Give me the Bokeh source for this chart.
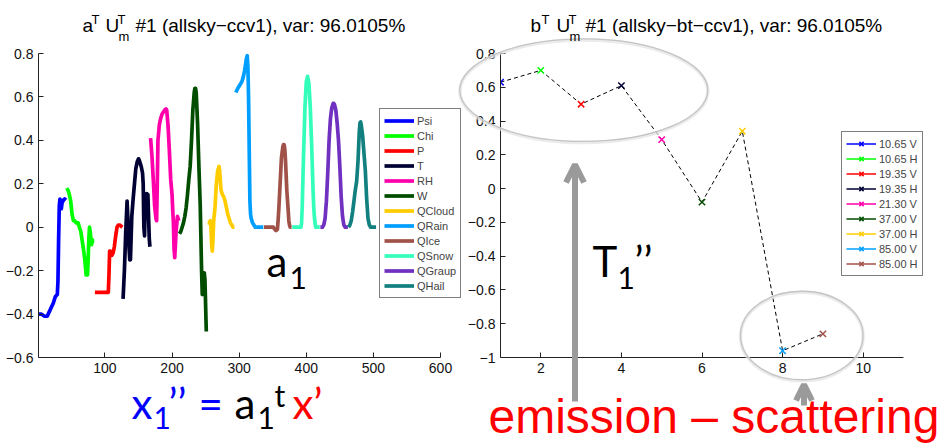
import numpy as np
from bokeh.plotting import figure
from bokeh.models import (Range1d, FixedTicker, Label, Legend, LegendItem,
                          Arrow, OpenHead, ColumnDataSource, GridBox)
from bokeh.embed import file_html
from bokeh.resources import INLINE

# ---------------- left panel data: a^T U_m^T vs control-vector index ----------------
var_names = ["Psi", "Chi", "P", "T", "RH", "W", "QCloud", "QRain", "QIce", "QSnow", "QGraup", "QHail"]
var_colors = ["#0000ff", "#00ff00", "#ff0000", "#000033", "#ff00aa", "#004d00",
              "#ffcc00", "#009fff", "#a05248", "#33ffbb", "#7030c0", "#138080"]

psi_x = [1, 5, 10, 14, 17, 20, 23, 26, 29, 30, 31, 32, 33, 34, 35, 36, 38, 40, 42]
psi_y = [-0.40, -0.40, -0.41, -0.41, -0.39, -0.37, -0.35, -0.32, -0.31, -0.25, -0.05, 0.10, 0.13, 0.12, 0.085, 0.11, 0.125, 0.13, 0.125]
chi_x = [43, 45, 47, 49, 51, 53, 55, 57, 60, 62, 64, 66, 68, 70, 72, 74, 75, 76, 77, 78, 79, 80, 82, 84]
chi_y = [0.18, 0.17, 0.15, 0.12, 0.06, 0.03, 0.03, 0.02, 0.02, 0.00, -0.02, -0.06, -0.10, -0.15, -0.22, -0.22, -0.15, -0.05, 0.00, -0.02, -0.05, -0.08, -0.06, -0.06]
p_x = [85, 90, 95, 100, 105, 106, 107, 108, 110, 112, 114, 116, 118, 120, 122, 124, 126]
p_y = [-0.30, -0.30, -0.30, -0.30, -0.30, -0.22, -0.11, -0.11, -0.13, -0.12, -0.09, -0.04, 0.00, 0.01, 0.01, 0.005, 0.00]
t_x = [127, 129, 131, 133, 134, 136, 137, 138, 140, 142, 144, 146, 148, 150, 151, 152, 154, 156, 157, 158, 159, 160, 162, 164, 165, 166, 167]
t_y = [-0.33, -0.20, -0.02, 0.12, 0.05, -0.10, -0.15, -0.15, 0.05, 0.13, 0.20, 0.27, 0.30, 0.315, 0.31, 0.30, 0.28, 0.25, 0.20, 0.00, -0.04, 0.10, 0.155, 0.15, 0.05, -0.05, -0.09]
rh_x = [168, 170, 172, 174, 176, 177, 178, 179, 181, 183, 185, 187, 189, 191, 192, 194, 196, 198, 200, 201, 202, 203, 204, 206, 208, 209, 210]
rh_y = [0.41, 0.33, 0.22, 0.10, 0.04, 0.03, 0.20, 0.40, 0.47, 0.50, 0.52, 0.53, 0.54, 0.545, 0.54, 0.47, 0.35, 0.22, 0.15, 0.08, 0.02, -0.10, -0.14, -0.02, 0.05, 0.04, 0.03]
w_x = [211, 213, 215, 217, 219, 221, 223, 225, 227, 229, 231, 233, 234, 235, 236, 238, 240, 242, 243, 244, 245, 246, 247, 248, 249, 250, 251]
w_y = [-0.03, -0.02, 0.00, 0.02, 0.05, 0.09, 0.15, 0.22, 0.28, 0.40, 0.54, 0.62, 0.64, 0.64, 0.62, 0.48, 0.28, 0.10, -0.05, -0.20, -0.31, -0.30, -0.21, -0.21, -0.24, -0.36, -0.48]
qcloud_x = [253, 255, 257, 258, 259, 260, 261, 262, 263, 264, 266, 268, 270, 271, 272, 273, 275, 277, 279, 281, 283, 285, 287, 289, 291, 293]
qcloud_y = [0.02, 0.02, 0.03, 0.00, -0.08, -0.11, -0.05, 0.03, 0.06, 0.09, 0.20, 0.26, 0.28, 0.26, 0.21, 0.17, 0.15, 0.14, 0.12, 0.09, 0.06, 0.04, 0.02, 0.01, 0.00, 0.00]
qrain_x = [295, 298, 301, 304, 306, 308, 310, 311, 312, 313, 314, 315, 316, 317, 318, 320, 322, 324, 328, 332, 336]
qrain_y = [0.62, 0.64, 0.655, 0.67, 0.69, 0.72, 0.76, 0.78, 0.79, 0.74, 0.60, 0.35, 0.12, 0.06, 0.04, 0.02, 0.01, 0.00, 0.00, 0.00, 0.00]
qice_x = [337, 342, 347, 351, 353, 355, 357, 358, 359, 361, 363, 365, 366, 367, 368, 369, 371, 373, 374, 375, 376, 378]
qice_y = [0.00, 0.00, 0.00, 0.00, -0.01, -0.015, -0.01, 0.03, 0.08, 0.20, 0.32, 0.37, 0.38, 0.38, 0.36, 0.31, 0.17, 0.08, 0.03, 0.01, 0.00, 0.00]
qsnow_x = [379, 385, 390, 392, 393, 394, 395, 396, 398, 400, 402, 404, 406, 408, 409, 410, 411, 412, 413, 414, 417, 420]
qsnow_y = [0.00, 0.00, 0.00, 0.00, 0.02, 0.10, 0.22, 0.34, 0.55, 0.67, 0.695, 0.66, 0.55, 0.38, 0.28, 0.18, 0.10, 0.05, 0.02, 0.00, 0.00, 0.00]
qgraup_x = [421, 424, 426, 428, 430, 432, 434, 436, 438, 440, 441, 442, 444, 446, 448, 450, 452, 454, 456, 458, 462]
qgraup_y = [0.00, 0.00, 0.01, 0.04, 0.12, 0.25, 0.40, 0.50, 0.55, 0.57, 0.57, 0.565, 0.54, 0.48, 0.40, 0.28, 0.14, 0.05, 0.01, 0.00, 0.00]
qhail_x = [463, 465, 467, 469, 471, 473, 475, 477, 479, 480, 481, 482, 484, 486, 488, 490, 492, 494, 496, 500, 504]
qhail_y = [0.00, 0.01, 0.03, 0.07, 0.12, 0.17, 0.21, 0.30, 0.44, 0.48, 0.485, 0.47, 0.42, 0.34, 0.26, 0.13, 0.04, 0.01, 0.00, 0.00, 0.00]

var_xs = [psi_x, chi_x, p_x, t_x, rh_x, w_x, qcloud_x, qrain_x, qice_x, qsnow_x, qgraup_x, qhail_x]
var_ys = [psi_y, chi_y, p_y, t_y, rh_y, w_y, qcloud_y, qrain_y, qice_y, qsnow_y, qgraup_y, qhail_y]

# ---------------- right panel data: b^T U_m^T per channel ----------------
channels = ["10.65 V", "10.65 H", "19.35 V", "19.35 H", "21.30 V", "37.00 V", "37.00 H", "85.00 V", "85.00 H"]
channel_index = [1, 2, 3, 4, 5, 6, 7, 8, 9]
bt_values = [0.63, 0.70, 0.50, 0.61, 0.29, -0.08, 0.34, -0.96, -0.86]
channel_colors = ["#0000ff", "#00ff00", "#ff0000", "#000033", "#ff00aa", "#004d00", "#ffcc00", "#009fff", "#a05248"]

# ---------------- ticks ----------------
left_xticks = [100, 200, 300, 400, 500, 600]
left_xlabels = ["100", "200", "300", "400", "500", "600"]
left_yticks = [-0.6, -0.4, -0.2, 0, 0.2, 0.4, 0.6, 0.8]
left_ylabels = ["\u22120.6", "\u22120.4", "\u22120.2", "0", "0.2", "0.4", "0.6", "0.8"]
right_xticks = [2, 4, 6, 8, 10]
right_xlabels = ["2", "4", "6", "8", "10"]
right_yticks = [-1, -0.8, -0.6, -0.4, -0.2, 0, 0.2, 0.4, 0.6, 0.8]
right_ylabels = ["\u22121", "\u22120.8", "\u22120.6", "\u22120.4", "\u22120.2", "0", "0.2", "0.4", "0.6", "0.8"]

# ---------------- layout constants (page pixels) ----------------
W1, W2, H = 461, 480, 447
TOP, BOTTOM = 53, 357
L_LEFT, L_RIGHT = 38, 440
R_LEFT, R_RIGHT = 500, 903
SANS = "Liberation Sans"
SLIDE = "Lato"
AXC = "#222222"
NAN = float("nan")
BASE_SHIFT = 0.42   # label anchor correction (fraction of font size)


def no_align(p):
    try:
        p.frame_align = False
    except Exception:
        pass


def make_fig(width, xr, yr, bl, br):
    p = figure(width=width, height=H, x_range=Range1d(*xr), y_range=Range1d(*yr),
               output_backend="svg", toolbar_location=None, title=None,
               min_border_left=bl, min_border_right=br,
               min_border_top=TOP, min_border_bottom=H - BOTTOM)
    p.outline_line_color = None
    p.background_fill_color = "white"
    p.border_fill_color = "white"
    p.xgrid.visible = False
    p.ygrid.visible = False
    no_align(p)
    return p


def style_axes(p, xt, xl, yt, yl):
    p.xaxis.ticker = FixedTicker(ticks=xt)
    p.yaxis.ticker = FixedTicker(ticks=yt)
    p.xaxis.major_label_overrides = {t: l for t, l in zip(xt, xl)}
    p.yaxis.major_label_overrides = {t: l for t, l in zip(yt, yl)}
    for ax in (p.xaxis[0], p.yaxis[0]):
        ax.axis_line_color = AXC
        ax.major_tick_line_color = AXC
        ax.major_tick_in = 5
        ax.major_tick_out = 0
        ax.minor_tick_line_color = None
        ax.major_label_text_font = SANS
        ax.major_label_text_font_size = "14px"
        ax.major_label_text_color = "#111111"
        ax.major_label_standoff = 5


# ================= left chart =================
p1 = make_fig(W1, (1, 600), (-0.6, 0.8), L_LEFT, W1 - L_RIGHT)
style_axes(p1, left_xticks, left_xlabels, left_yticks, left_ylabels)
for xs, ys, c in zip(var_xs, var_ys, var_colors):
    p1.line(xs, ys, line_color=c, line_width=3.7, line_join="round")

# ================= right chart =================
p2 = make_fig(W2, (1, 11), (-1, 0.8), R_LEFT - W1, W1 + W2 - R_RIGHT)
style_axes(p2, right_xticks, right_xlabels, right_yticks, right_ylabels)
p2.line(channel_index, bt_values, line_color="black", line_width=1, line_dash="4 3")
p2.scatter(channel_index, bt_values, marker="x", size=9, line_color=channel_colors, line_width=1.5)

# ================= transparent overlay (page-pixel space) for titles, legends, slide notes =================
ov = figure(width=W1 + W2, height=H, x_range=Range1d(0, W1 + W2), y_range=Range1d(H, 0),
            x_axis_type=None, y_axis_type=None, output_backend="svg", toolbar_location=None,
            title=None, min_border=0, min_border_left=0, min_border_right=0,
            min_border_top=0, min_border_bottom=0)
ov.outline_line_color = None
ov.background_fill_alpha = 0
ov.border_fill_alpha = 0
no_align(ov)


def txt(x, y, text, size, color="black", font=SANS):
    ov.add_layout(Label(x=x, y=y - BASE_SHIFT * size, text=text, text_font=font,
                        text_font_size=f"{size}px", text_color=color,
                        text_align="left", text_baseline="alphabetic"))


# legends (samples styled like the chart glyphs; sample renderers hold no visible point)
items1 = []
for name, c in zip(var_names, var_colors):
    r = ov.line(x=[NAN], y=[NAN], line_color=c, line_width=3.7)
    items1.append(LegendItem(label=name, renderers=[r]))
items2 = []
for ch, c in zip(channels, channel_colors):
    lr = ov.line(x=[NAN], y=[NAN], line_color=c, line_width=1.5)
    sr = ov.scatter(x=[NAN], y=[NAN], marker="x", size=9, line_color=c, line_width=1.5)
    items2.append(LegendItem(label=ch, renderers=[lr, sr]))

leg_style = dict(margin=0, padding=4, spacing=0, glyph_width=30, glyph_height=15,
                 label_height=15, label_standoff=3, label_text_font=SANS,
                 label_text_font_size="11px", border_line_color="black",
                 border_line_width=1, background_fill_color="white",
                 background_fill_alpha=1)
ov.add_layout(Legend(items=items1, location=(379, H - 298), **leg_style))
ov.add_layout(Legend(items=items2, location=(841, H - 276), **leg_style))

# titles
txt(82, 33, "a", 19)
txt(91, 24, "T", 13)
txt(105, 33, "U", 19)
txt(117, 24, "T", 13)
txt(118, 41, "m", 13)
txt(135, 33, "#1 (allsky\u2212ccv1), var: 96.0105%", 19)
txt(530, 33, "b", 19)
txt(541, 24, "T", 13)
txt(556, 33, "U", 19)
txt(568, 24, "T", 13)
txt(569, 41, "m", 13)
txt(585, 33, "#1 (allsky\u2212bt\u2212ccv1), var: 96.0105%", 19)

# highlight ellipses
for cx, cy, ew, eh in [(583.3, 89.7, 248.0, 102.6), (801.3, 335.0, 122.6, 88.6)]:
    ov.ellipse(x=[cx], y=[cy + 1], width=ew, height=eh, width_units="screen", height_units="screen",
               fill_color=None, line_color="#e2e2e2", line_width=3.5, line_alpha=0.7)
    ov.ellipse(x=[cx], y=[cy], width=ew, height=eh, width_units="screen", height_units="screen",
               fill_color=None, line_color="#c4c4c4", line_width=1.3)

# gray arrows
GRAY = "#9a9a9a"
ov.add_layout(Arrow(x_start=574.5, y_start=401, x_end=574.5, y_end=164,
                    line_color=GRAY, line_width=6,
                    end=OpenHead(size=18, line_color=GRAY, line_width=6)))
ov.add_layout(Arrow(x_start=803.5, y_start=405, x_end=803.5, y_end=384,
                    line_color=GRAY, line_width=6,
                    end=OpenHead(size=16, line_color=GRAY, line_width=6)))

# slide notes
txt(266, 278, "a", 42, font=SLIDE)
txt(289, 290, "1", 30, font=SLIDE)
txt(131, 420, "x", 42, "#0000ff", SLIDE)
txt(153, 430, "1", 30, "#0000ff", SLIDE)
txt(168, 420, "\u2019\u2019", 42, "#0000ff", SLIDE)
txt(198, 420, "=", 42, "#0000ff", SLIDE)
txt(234, 420, "a", 42, "black", SLIDE)
txt(257, 430, "1", 30, "black", SLIDE)
txt(274, 407, "t", 30, "black", SLIDE)
txt(292, 420, "x\u2019", 42, "#ff0000", SLIDE)
txt(592, 278, "T", 42, font=SLIDE)
txt(617, 290, "1", 30, font=SLIDE)
txt(634, 278, "\u2019\u2019", 42, font=SLIDE)
txt(488, 436, "emission \u2013 scattering", 48, "#ff0000", SANS)

layout = GridBox(children=[(p1, 0, 0), (p2, 0, 1), (ov, 0, 0, 1, 2)])
open("out.html", "w").write(file_html(layout, INLINE))
